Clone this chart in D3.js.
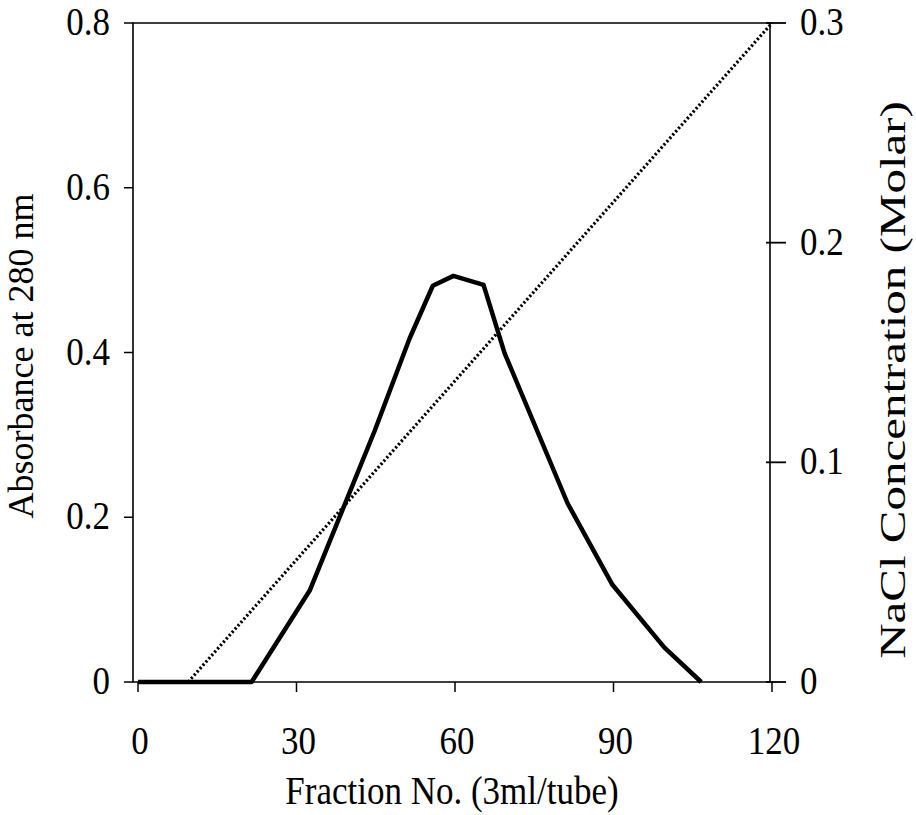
<!DOCTYPE html>
<html>
<head>
<meta charset="utf-8">
<script src="https://cdn.jsdelivr.net/npm/d3@7"></script>
<style>
  body { margin: 0; background: #fff; }
  svg text { font-family: "Liberation Serif", "Times New Roman", serif; fill: #000; }
</style>
</head>
<body>
<svg id="chart" width="916" height="815"></svg>
<script>
// absorbance at 280 nm
var fractions  = [0, 21.5, 32.5, 44.8, 51.4, 55.8, 59.7, 65.4, 69.4, 81.3, 89.8, 99.6, 106.6];
var absorbance = [0, 0,    0.111, 0.305, 0.417, 0.481, 0.493, 0.482, 0.399, 0.217, 0.118, 0.042, 0];

// NaCl gradient (linear)
var saltFractions = [9.5, 120];
var saltMolar     = [0,   0.3];

var xTicks     = [0, 30, 60, 90, 120];
var leftTicks  = [0, 0.2, 0.4, 0.6, 0.8];
var rightTicks = [0, 0.1, 0.2, 0.3];

var svg = d3.select("#chart");
var plotTop = 23, plotBottom = 682;
var x  = d3.scaleLinear().domain([0, 120]).range([138, 772]);
var yL = d3.scaleLinear().domain([0, 0.8]).range([plotBottom, plotTop]);
var yR = d3.scaleLinear().domain([0, 0.3]).range([plotBottom, plotTop]);
var leftX = 133, rightX = 770;
var fs = 35, stretch = 1.15;

// frame
svg.append("path")
  .attr("d", "M" + leftX + "," + plotBottom + "V" + plotTop + "H" + rightX + "V" + plotBottom + "Z")
  .attr("fill", "none").attr("stroke", "#000").attr("stroke-width", 1.6);

function hText(tx, ty, str, anchor) {
  svg.append("text")
    .attr("transform", "translate(" + tx + "," + ty + ") scale(1," + stretch + ")")
    .attr("text-anchor", anchor)
    .attr("font-size", fs)
    .text(str);
}

// x axis ticks
xTicks.forEach(function(t) {
  svg.append("line").attr("x1", x(t)).attr("x2", x(t))
    .attr("y1", plotBottom).attr("y2", plotBottom + 10)
    .attr("stroke", "#000").attr("stroke-width", 1.5);
  hText(x(t) + 2, 754, d3.format("d")(t), "middle");
});

// left ticks
leftTicks.forEach(function(t) {
  svg.append("line").attr("x1", leftX - 9).attr("x2", leftX)
    .attr("y1", yL(t)).attr("y2", yL(t))
    .attr("stroke", "#000").attr("stroke-width", 1.5);
  hText(110, yL(t) + 12, t === 0 ? "0" : d3.format(".1f")(t), "end");
});

// right ticks
rightTicks.forEach(function(t) {
  svg.append("line").attr("x1", rightX - 4).attr("x2", rightX + 16)
    .attr("y1", yR(t)).attr("y2", yR(t))
    .attr("stroke", "#000").attr("stroke-width", 1.8);
  hText(800, yR(t) + 12, t === 0 ? "0" : d3.format(".1f")(t), "start");
});

// NaCl gradient, dotted
svg.append("path")
  .datum(d3.zip(saltFractions, saltMolar))
  .attr("d", d3.line().x(function(d) { return x(d[0]); }).y(function(d) { return yR(d[1]); }))
  .attr("fill", "none").attr("stroke", "#000").attr("stroke-width", 3.2)
  .attr("stroke-dasharray", "2.2,2.2");

// absorbance profile
svg.append("path")
  .datum(d3.zip(fractions, absorbance))
  .attr("d", d3.line().x(function(d) { return x(d[0]); }).y(function(d) { return yL(d[1]); }))
  .attr("fill", "none").attr("stroke", "#000").attr("stroke-width", 4.5)
  .attr("stroke-linejoin", "round");

// axis titles
hText(452, 804, "Fraction No. (3ml/tube)", "middle");

svg.append("text")
  .attr("transform", "translate(33,356) rotate(-90)")
  .attr("text-anchor", "middle").attr("font-size", 36)
  .text("Absorbance at 280 nm");

svg.append("text")
  .attr("transform", "translate(905,380) rotate(-90) scale(1.4,1)")
  .attr("text-anchor", "middle").attr("font-size", 35)
  .text("NaCl Concentration (Molar)");
</script>
</body>
</html>
